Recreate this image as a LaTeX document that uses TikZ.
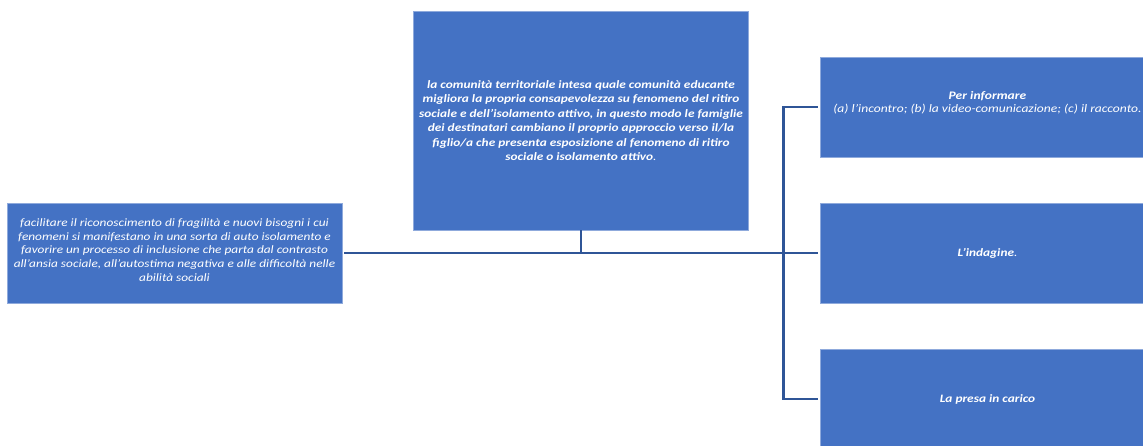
\documentclass[tikz,border=0pt]{standalone}
\usepackage{fontspec}
\setmainfont{Carlito}[FakeStretch=1.18]
\usetikzlibrary{positioning}
\definecolor{boxblue}{HTML}{4472C4}
\definecolor{boxedge}{HTML}{8FAADC}
\definecolor{linkblue}{HTML}{2F5597}
\tikzset{
  goalbox/.style={draw=boxedge, line width=0.6pt, fill=boxblue, text=white,
    align=center, inner sep=0pt, minimum width=335pt, minimum height=100pt},
  label/.style={text=white, align=center, inner sep=0pt},
  link/.style={draw=linkblue, line width=2.6pt}
}

\begin{document}
\begin{tikzpicture}[x=1pt, y=-1pt]
    \useasboundingbox (0,0) rectangle (1143,446);
    \node[goalbox, minimum height=219pt,
          font=\fontsize{11.3}{14.5}\selectfont\bfseries\itshape] (center) at (581,120.5)
        {la comunità territoriale intesa quale comunità educante\\
         migliora la propria consapevolezza su fenomeno del ritiro\\
         sociale e dell’isolamento attivo, in questo modo le famiglie\\
         dei destinatari cambiano il proprio approccio verso il/la\\
         figlio/a che presenta esposizione al fenomeno di ritiro\\
         sociale o isolamento attivo{\mdseries.}};
    \node[goalbox] (left) at (174.5,253) {};
    \node[label, font=\fontsize{11.3}{13.7}\selectfont\itshape] (lefttext) at (174.5,250)
        {facilitare il riconoscimento di fragilità e nuovi bisogni i cui\\
         fenomeni si manifestano in una sorta di auto isolamento e\\
         favorire un processo di inclusione che parta dal contrasto\\
         all’ansia sociale, all’autostima negativa e alle difficoltà nelle\\
         abilità sociali};
    \node[goalbox] (inform) at (987.5,107) {};
    \node[label, font=\fontsize{11.5}{12.7}\selectfont\itshape] (informtext) at (987.5,103)
        {\textbf{Per informare}\\
         (a) l’incontro; (b) la video-comunicazione; (c) il racconto.};
    \node[goalbox, font=\fontsize{11.3}{13}\selectfont\itshape] (survey) at (987.5,253)
        {\textbf{L’indagine}.};
    \node[goalbox, font=\fontsize{11.3}{13}\selectfont\itshape] (care) at (987.5,399)
        {\textbf{La presa in carico}};
    % connectors
    \coordinate (hub) at (center.south |- left.east);
    \draw[link] ([xshift=2pt]left.east) -- ([xshift=-2pt]survey.west);
    \draw[link, line width=1.8pt] (center.south) -- (hub);
    \draw[link] ([xshift=-2pt]inform.west) -| ([xshift=-36pt]survey.west)
        |- ([xshift=-2pt]care.west);
\end{tikzpicture}
\end{document}
